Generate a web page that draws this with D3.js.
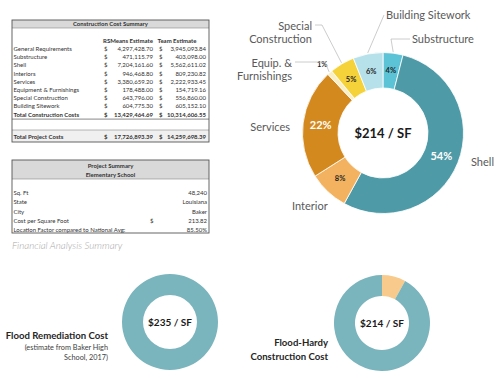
<!DOCTYPE html>
<html>
<head>
<meta charset="utf-8">
<script src="https://cdn.jsdelivr.net/npm/d3@7"></script>
<style>
  body { margin: 0; background: #fff; }
  svg { display: block; font-family: Lato, "Open Sans", sans-serif; }
</style>
</head>
<body>
<div id="chart"></div>
<script>
// construction cost table
const costCategories = ['General Requirements', 'Substructure', 'Shell', 'Interiors', 'Services',
  'Equipment & Furnishings', 'Special Construction', 'Building Sitework']
const rsMeansCost = [4297428.70, 471115.79, 7204161.60, 946468.80, 3380659.20, 178488.00, 643796.00, 604775.30]
const teamCost = [3945093.84, 403098.00, 5562611.02, 809230.82, 2222933.45, 154719.16, 556860.00, 605152.10]
const totalConstruction = [13429464.69, 10314606.55]
const totalProject = [17726893.39, 14259698.39]

// project summary table
const projectLabels = ['Sq. Ft', 'State', 'City', 'Cost per Square Foot', 'Location Factor compared to National Avg:']
const projectValues = ['48,240', 'Louisiana', 'Baker', '213.82', '85.50%']

// big donut (share of cost, %)
const shareCategories = ['Substructure', 'Shell', 'Interior', 'Services', 'Equip. & Furnishings', 'Special Construction', 'Building Sitework']
const sharePct = [4, 54, 8, 22, 1, 5, 6]
const shareColors = ['#5cc3d6', '#4f9aa7', '#f3b25f', '#d4891f', '#faeec4', '#f6d23a', '#b6e1ea']

// small donuts
const remediationCost = 235
const remediationParts = [100]
const hardyCost = 214
const hardyParts = [8, 92]
const smallColors = ['#f8ca8c', '#7ab4bd']

const W = 500, H = 379
const svg = d3.select('#chart').append('svg').attr('width', W).attr('height', H)
const money = d3.format(',.2f')
const ink = '#333'

// ---------- table 1 ----------
const t1 = { x: 12, y: 20, w: 197, h: 122 }
const g1 = svg.append('g')
g1.append('rect').attr('x', t1.x).attr('y', t1.y).attr('width', t1.w).attr('height', 8).attr('fill', '#d9d9d9')
g1.append('rect').attr('x', t1.x).attr('y', t1.y + 110).attr('width', t1.w).attr('height', 12).attr('fill', '#f0f0f0')
g1.append('text').attr('x', t1.x + t1.w / 2).attr('y', t1.y + 6).attr('text-anchor', 'middle')
  .attr('font-size', 6).attr('font-weight', 'bold').attr('fill', ink).text('Construction Cost Summary')
g1.append('line').attr('x1', t1.x).attr('x2', t1.x + t1.w).attr('y1', t1.y + 8).attr('y2', t1.y + 8).attr('stroke', '#888').attr('stroke-width', 0.6)

const rowY = d3.scaleLinear().domain([0, 1]).range([t1.y + 31, t1.y + 39.2])
const cell = (g, x, y, txt, anchor, bold) => g.append('text').attr('x', x).attr('y', y)
  .attr('text-anchor', anchor || 'start').attr('font-size', 6).attr('font-weight', bold ? 'bold' : 'normal')
  .attr('fill', ink).text(txt)

cell(g1, 128, t1.y + 23, 'RSMeans Estimate', 'middle', true)
cell(g1, 177, t1.y + 23, 'Team Estimate', 'middle', true)

costCategories.forEach((c, i) => {
  const y = rowY(i)
  cell(g1, 13.5, y, c)
  cell(g1, 104, y, '$')
  cell(g1, 153, y, money(rsMeansCost[i]), 'end')
  cell(g1, 159, y, '$')
  cell(g1, 206, y, money(teamCost[i]), 'end')
})
const yTc = rowY(costCategories.length)
cell(g1, 13.5, yTc, 'Total Construction Costs', 'start', true)
cell(g1, 104, yTc, '$', 'start', true)
cell(g1, 153, yTc, money(totalConstruction[0]), 'end', true)
cell(g1, 159, yTc, '$', 'start', true)
cell(g1, 206, yTc, money(totalConstruction[1]), 'end', true)
g1.append('line').attr('x1', t1.x).attr('x2', t1.x + t1.w).attr('y1', yTc + 2.5).attr('y2', yTc + 2.5).attr('stroke', '#555').attr('stroke-width', 0.7)
g1.append('line').attr('x1', t1.x).attr('x2', t1.x + t1.w).attr('y1', t1.y + 110).attr('y2', t1.y + 110).attr('stroke', '#888').attr('stroke-width', 0.6)
const yTp = t1.y + 118.5
cell(g1, 13.5, yTp, 'Total Project Costs', 'start', true)
cell(g1, 104, yTp, '$', 'start', true)
cell(g1, 153, yTp, money(totalProject[0]), 'end', true)
cell(g1, 159, yTp, '$', 'start', true)
cell(g1, 206, yTp, money(totalProject[1]), 'end', true)
g1.append('rect').attr('x', t1.x).attr('y', t1.y).attr('width', t1.w).attr('height', t1.h)
  .attr('fill', 'none').attr('stroke', '#555').attr('stroke-width', 0.9)

// ---------- table 2 ----------
const t2 = { x: 12, y: 160, w: 197, h: 73 }
const g2 = svg.append('g')
g2.append('rect').attr('x', t2.x).attr('y', t2.y).attr('width', t2.w).attr('height', 19).attr('fill', '#d9d9d9')
g2.append('line').attr('x1', t2.x).attr('x2', t2.x + t2.w).attr('y1', t2.y + 19).attr('y2', t2.y + 19).attr('stroke', '#888').attr('stroke-width', 0.6)
cell(g2, t2.x + t2.w / 2, t2.y + 7.8, 'Project Summary', 'middle', true)
cell(g2, t2.x + t2.w / 2, t2.y + 17, 'Elementary School', 'middle', true)
const rowY2 = d3.scaleLinear().domain([0, 1]).range([t2.y + 35.3, t2.y + 44.4])
projectLabels.forEach((c, i) => {
  const y = rowY2(i)
  cell(g2, 13.5, y, c)
  cell(g2, 207, y, projectValues[i], 'end')
  if (i === 3) cell(g2, 150, y, '$')
})
g2.append('rect').attr('x', t2.x).attr('y', t2.y).attr('width', t2.w).attr('height', t2.h)
  .attr('fill', 'none').attr('stroke', '#555').attr('stroke-width', 0.9)

svg.append('text').attr('x', 12).attr('y', 249).attr('font-size', 9.8).attr('font-style', 'italic')
  .attr('font-weight', 300).attr('fill', '#a8a8a8').text('Financial Analysis Summary')

// ---------- big donut ----------
const cx = 383, cy = 133, rOut = 80.5, rIn = 45
const pie = d3.pie().sort(null).value(d => d)
const arc = d3.arc().innerRadius(rIn).outerRadius(rOut)
const slices = pie(sharePct)
const gd = svg.append('g').attr('transform', `translate(${cx},${cy})`)
gd.selectAll('path').data(slices).enter().append('path')
  .attr('d', arc).attr('fill', (d, i) => shareColors[i]).attr('stroke', '#fff').attr('stroke-width', 0.8)

const midA = d => (d.startAngle + d.endAngle) / 2
const polar = (a, r) => [Math.sin(a) * r, -Math.cos(a) * r]

gd.selectAll('.pct').data(slices).enter().append('text')
  .attr('class', 'pct')
  .attr('transform', d => {
    const p = d.data < 2 ? polar(midA(d), 92) : arc.centroid(d)
    return `translate(${p[0]},${p[1]})`
  })
  .attr('text-anchor', 'middle').attr('dy', '0.35em')
  .attr('font-weight', 'bold')
  .attr('font-size', d => d.data > 20 ? 11 : 7.5)
  .attr('fill', d => d.data > 20 ? '#fff' : '#262626')
  .text(d => d.data + '%')

gd.append('text').attr('text-anchor', 'middle').attr('dy', '0.35em')
  .attr('font-size', 13).attr('font-weight', 'bold').attr('fill', '#1a1a1a').text('$214 / SF')

// category labels (positions relative to donut centre)
const labelLayout = {
  'Substructure': { x: 29, y: -94, anchor: 'start', lines: ['Substructure'], bend: [8, -94] },
  'Shell': { x: 88, y: 29, anchor: 'start', lines: ['Shell'] },
  'Interior': { x: -91, y: 73, anchor: 'start', lines: ['Interior'] },
  'Services': { x: -93, y: -6, anchor: 'end', lines: ['Services'] },
  'Equip. & Furnishings': { x: -91, y: -70, anchor: 'end', lines: ['Equip. &', 'Furnishings'], bend: [-58, -71] },
  'Special Construction': { x: -71, y: -107, anchor: 'end', lines: ['Special', 'Construction'], bend: [-61, -108] },
  'Building Sitework': { x: 3, y: -118, anchor: 'start', lines: ['Building Sitework'] }
}
const labelG = gd.append('g').attr('font-size', 11).attr('fill', '#595959')
slices.forEach((d, i) => {
  const L = labelLayout[shareCategories[i]]
  const t = labelG.append('text').attr('x', L.x).attr('y', L.y).attr('text-anchor', L.anchor)
  L.lines.forEach((s, k) => t.append('tspan').attr('x', L.x).attr('dy', k === 0 ? '0.35em' : '1.15em').text(s))
  if (['Shell', 'Interior', 'Services'].includes(shareCategories[i])) return
  const start = L.anchor === 'end' ? [L.x + 3, L.y - 1] : [L.x - 2, L.y]
  const end = polar(midA(d), rOut + 1)
  const pts = L.bend ? [start, L.bend, end] : [start, end]
  labelG.append('path').attr('d', d3.line()(pts)).attr('fill', 'none').attr('stroke', '#bfbfbf').attr('stroke-width', 0.8)
})

// ---------- small donuts ----------
const smallArc = d3.arc().innerRadius(27).outerRadius(48)
function smallDonut(x, y, parts, colors, cost) {
  const g = svg.append('g').attr('transform', `translate(${x},${y})`)
  g.selectAll('path').data(pie(parts)).enter().append('path')
    .attr('d', smallArc).attr('fill', (d, i) => colors[i])
  g.append('text').attr('text-anchor', 'middle').attr('dy', '0.35em')
    .attr('font-size', 10).attr('font-weight', 'bold').attr('fill', '#1a1a1a').text(`$${cost} / SF`)
}
smallDonut(170, 322, remediationParts, [smallColors[1]], remediationCost)
smallDonut(382, 323, hardyParts, smallColors, hardyCost)

const note = svg.append('g').attr('text-anchor', 'end').attr('fill', '#262626')
note.append('text').attr('x', 108).attr('y', 339).attr('font-size', 9.6).attr('font-weight', 'bold').text('Flood Remediation Cost')
note.append('text').attr('x', 108).attr('y', 350).attr('font-size', 7.3).attr('fill', '#404040').text('(estimate from Baker High')
note.append('text').attr('x', 108).attr('y', 360).attr('font-size', 7.3).attr('fill', '#404040').text('School, 2017)')
note.append('text').attr('x', 328).attr('y', 346).attr('font-size', 9.6).attr('font-weight', 'bold').text('Flood-Hardy')
note.append('text').attr('x', 328).attr('y', 360).attr('font-size', 9.6).attr('font-weight', 'bold').text('Construction Cost')
</script>
</body>
</html>
